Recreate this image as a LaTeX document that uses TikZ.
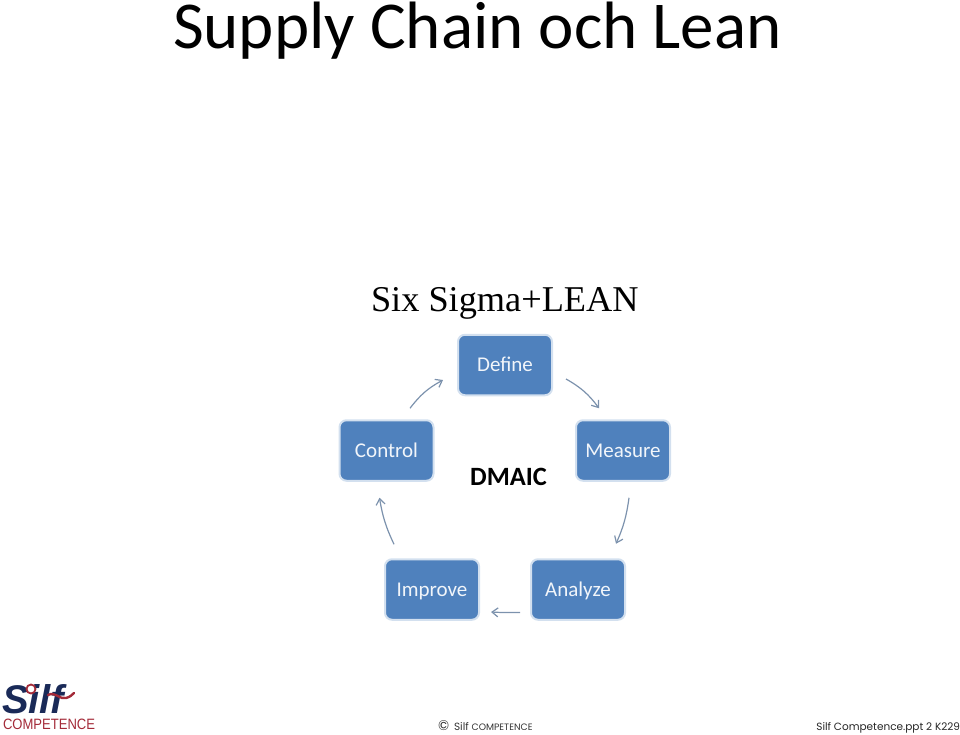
\documentclass[tikz,border=0pt]{standalone}
\usepackage{fontspec}
\setmainfont{Carlito}
\newfontfamily\seriffont{Liberation Serif}
\newfontfamily\footfont{Poppins}
\newfontfamily\logofont{Liberation Sans}[FakeStretch=0.87]
\newfontfamily\logobold{Liberation Sans}
\definecolor{boxfill}{HTML}{4F81BD}
\definecolor{boxedge}{HTML}{D3E0EF}
\definecolor{flowcol}{HTML}{7C92AD}
\definecolor{navy}{HTML}{1A2A58}
\definecolor{logored}{HTML}{A32A38}
\usetikzlibrary{arrows.meta}
\tikzset{
  stagebox/.style={draw=boxedge,line width=2pt,fill=boxfill,rounded corners=7pt,
    minimum width=94pt,minimum height=60.5pt,inner sep=0pt,outer sep=1pt,
    text height=17pt,text depth=4pt,
    text=white!92!boxfill,font=\fontsize{21}{25}\selectfont},
  flow/.style={draw=flowcol,line width=1.2pt,-{Straight Barb[length=6pt,width=9pt]}},
  plain/.style={inner sep=0pt,outer sep=0pt}
}
\begin{document}
\begin{tikzpicture}[x=1pt,y=-1pt]
\useasboundingbox (0,0) rectangle (960,735);
\node[plain,anchor=base west,font=\fontsize{67}{80}\selectfont,text=black] (title) at (173,49) {Supply Chain och Lean};
\node[plain,anchor=base west,font=\seriffont\fontsize{36.3}{44}\selectfont,text=black] (sub) at (371,311) {Six Sigma+LEAN};
\node[stagebox] (define) at (505,365) {Define};
\node[stagebox] (control) at (386.5,450.5) {Control};
\node[stagebox] (measure) at (623,450.5) {Measure};
\node[stagebox] (improve) at (432,589.5) {Improve};
\node[stagebox] (analyze) at (578,589.5) {Analyze};
\node[plain,anchor=base,font=\bfseries\fontsize{26.4}{30}\selectfont] (dmaic) at (508.5,485) {DMAIC};
\draw[flow] ([shift={(23.5,-11)}]control.north) to[bend left=12] ([shift={(-14,15)}]define.west);
\draw[flow] ([shift={(13,14)}]define.east) to[bend left=12] ([shift={(-24,-11)}]measure.north);
\draw[flow] ([shift={(6,16)}]measure.south) to[bend left=8] ([shift={(-7,62)}]measure.south);
\draw[flow] ([shift={(-10,23)}]analyze.west) to[bend left=2] ([shift={(11,22.5)}]improve.east);
\draw[flow] ([shift={(-38,-14)}]improve.north) to[bend left=8] ([shift={(-7,16)}]control.south);
% logo
\node[plain,anchor=base west,text=navy,text depth=0pt,font=\logobold\bfseries\itshape\fontsize{40}{46}\selectfont] (logo) at (2,713) {Silf};
\draw[logored,fill=white,line width=1.8pt] (31,689) circle (4.5pt);
\draw[logored,line width=2.4pt,line cap=round] (48,695) .. controls (55,691) and (60,700) .. (66,698) .. controls (70,697) and (72,695) .. (74,693);
\node[plain,anchor=base west,text=logored,font=\logofont\fontsize{15}{18}\selectfont] (logotext) at (3,729) {COMPETENCE};
% footer
\node[plain,anchor=base west,font=\footfont\fontsize{14}{13}\selectfont,text=black!80] (copy) at (438,730) {©};
\node[plain,anchor=base west,font=\footfont\fontsize{10.5}{13}\selectfont,text=black!80] (copytext) at (454,730) {Silf {\fontsize{9.3}{11}\selectfont COMPETENCE}};
\node[plain,anchor=base east,font=\footfont\fontsize{10.5}{13}\selectfont,text=black!85] (file) at (960,730) {Silf Competence.ppt 2 K229};
\end{tikzpicture}
\end{document}
